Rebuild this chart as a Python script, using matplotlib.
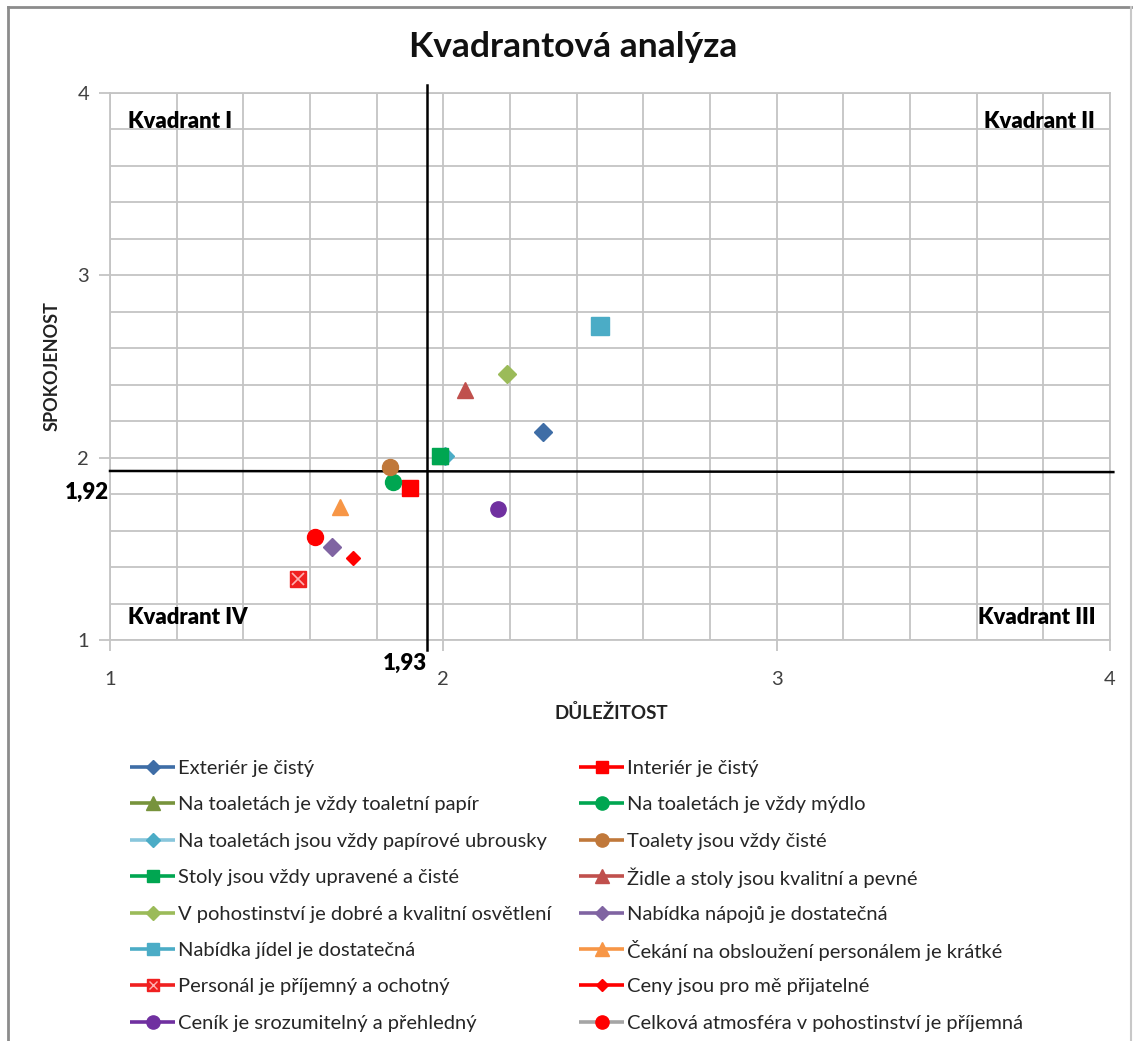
import matplotlib
matplotlib.use("Agg")
import matplotlib.pyplot as plt
from matplotlib.lines import Line2D

plt.rcParams['font.family'] = ['Lato', 'DejaVu Sans']

# ---- data ----
labels = [
    "Exteriér je čistý",
    "Interiér je čistý",
    "Na toaletách je vždy toaletní papír",
    "Na toaletách je vždy mýdlo",
    "Na toaletách jsou vždy papírové ubrousky",
    "Toalety jsou vždy čisté",
    "Stoly jsou vždy upravené a čisté",
    "Židle a stoly jsou kvalitní a pevné",
    "V pohostinství je dobré a kvalitní osvětlení",
    "Nabídka nápojů je dostatečná",
    "Nabídka jídel je dostatečná",
    "Čekání na obsloužení personálem je krátké",
    "Personál je příjemný a ochotný",
    "Ceny jsou pro mě přijatelné",
    "Ceník je srozumitelný a přehledný",
    "Celková atmosféra v pohostinství je příjemná",
]
importance = [2.30, 1.90, 1.99, 1.85, 2.005, 1.84, 1.99, 2.065, 2.19, 1.665, 2.47, 1.69, 1.565, 1.73, 2.165, 1.615]
satisfaction = [2.14, 1.835, 2.01, 1.865, 2.01, 1.95, 2.01, 2.37, 2.46, 1.51, 2.72, 1.73, 1.335, 1.45, 1.72, 1.565]

mean_importance_line = 1.95
mean_satisfaction_line = 1.927
mean_importance_label = "1,93"
mean_satisfaction_label = "1,92"

x_ticks = [1, 2, 3, 4]
y_ticks = [1, 2, 3, 4]
quadrant_labels = ["Kvadrant I", "Kvadrant II", "Kvadrant III", "Kvadrant IV"]

# ---- styles ----
marker_colors = ["#3E6DA6", "#FF0000", "#77933C", "#00A651", "#4BACC6", "#C0783A",
                 "#00A651", "#C0504D", "#9BBB59", "#8064A2", "#4BACC6", "#F79646",
                 "#F02020", "#FF0000", "#7030A0", "#FF0000"]
line_colors = ["#3E6DA6", "#FF0000", "#77933C", "#00A651", "#89C6DC", "#C0783A",
               "#00A651", "#C0504D", "#9BBB59", "#8064A2", "#4BACC6", "#F79646",
               "#F02020", "#FF0000", "#7030A0", "#A5A5A5"]
markers = ["D", "s", "^", "o", "D", "o", "s", "^", "D", "D", "s", "^", "s", "D", "o", "o"]
sizes = [9, 12, 12, 11.5, 9, 11.5, 12, 12, 9.5, 9, 13, 12, 12, 7.5, 11, 11.5]

fig = plt.figure(figsize=(11.37, 10.41), dpi=100)
W, H = 1137, 1041

def fx(px):
    return px / W

def fy(py):
    return 1 - py / H

# outer border
border_color = "#8C8C8C"
fig.add_artist(Line2D([fx(8), fx(8)], [fy(7), 0], color=border_color, lw=2))
fig.add_artist(Line2D([fx(8), fx(1131)], [fy(7), fy(7)], color=border_color, lw=2))
fig.add_artist(Line2D([fx(1131), fx(1131)], [fy(7), 0], color="#C8C8C8", lw=1.5))

ax = fig.add_axes([fx(110), fy(640), fx(1110) - fx(110), fy(93) - fy(640)])
ax.set_xlim(1, 4)
ax.set_ylim(1, 4)

grid_color = "#C4C4C4"
ax.set_xticks(x_ticks)
ax.set_yticks(y_ticks)
ax.set_xticks([1 + 0.2 * i for i in range(16)], minor=True)
ax.set_yticks([1 + 0.2 * i for i in range(16)], minor=True)
ax.grid(True, which='both', color=grid_color, lw=1.3)
ax.tick_params(which='minor', length=0)
ax.tick_params(which='major', length=8, color=grid_color, width=1.3,
               labelsize=14.5, labelcolor="#404040")
ax.tick_params(axis='x', pad=14)
ax.tick_params(axis='y', pad=7)
for s in ax.spines.values():
    s.set_color(grid_color)
    s.set_linewidth(1.3)
ax.set_axisbelow(True)

# quadrant lines
ax.plot([1, 4.01], [mean_satisfaction_line, mean_satisfaction_line - 0.006],
        color="black", lw=1.8, clip_on=False, zorder=3)
ax.plot([mean_importance_line, mean_importance_line], [0.945, 4.045],
        color="black", lw=1.8, clip_on=False, zorder=3)

for i, lab in enumerate(labels):
    ax.plot(importance[i], satisfaction[i], linestyle='none', marker=markers[i],
            ms=sizes[i], color=marker_colors[i], mec=marker_colors[i], zorder=4 + i)
    if i == 12:
        ax.plot(importance[i], satisfaction[i], linestyle='none', marker='x',
                ms=sizes[i] * 0.75, mew=1.2, color="#FFB0B0", zorder=4 + i)

# quadrant labels
qkw = dict(fontsize=15.8, fontweight='heavy', color="black", transform=ax.transAxes)
ax.text(18 / 1000, 1 - 28 / 547, quadrant_labels[0], ha='left', va='center', **qkw)
ax.text(1 - 15 / 1000, 1 - 28 / 547, quadrant_labels[1], ha='right', va='center', **qkw)
ax.text(1 - 15 / 1000, 22 / 547, quadrant_labels[2], ha='right', va='center', **qkw)
ax.text(18 / 1000, 22 / 547, quadrant_labels[3], ha='left', va='center', **qkw)

# mean labels
fig.text(fx(109), fy(492), mean_satisfaction_label, ha='right', va='center',
         fontsize=16, fontweight='heavy')
fig.text(fx(405), fy(663), mean_importance_label, ha='center', va='center',
         fontsize=16, fontweight='heavy')

# titles
fig.text(fx(573), fy(47), "Kvadrantová analýza", ha='center', va='center',
         fontsize=25.5, fontweight='bold', color="#111111")
fig.text(fx(611), fy(713), "DŮLEŽITOST", ha='center', va='center',
         fontsize=13.5, fontweight='bold', color="#222222")
fig.text(fx(52), fy(366), "SPOKOJENOST", ha='center', va='center', rotation=90,
         fontsize=13, fontweight='bold', color="#222222")

# legend, drawn row-wise in two columns
col_x = [130, 579]
row_y0 = 767
row_dy = 36.4
line_len = 45
for i, lab in enumerate(labels):
    row, col = divmod(i, 2)
    x0 = col_x[col]
    y = fy(row_y0 + row * row_dy)
    fig.add_artist(Line2D([fx(x0), fx(x0 + line_len)], [y, y], color=line_colors[i],
                          lw=2.6, solid_capstyle='butt'))
    lms = {"D": 7.5, "s": 9, "^": 9.5, "o": 9.5}[markers[i]]
    if i == 13:
        lms = 6
    fig.add_artist(Line2D([fx(x0 + line_len / 2)], [y], linestyle='none', marker=markers[i],
                          ms=lms, mfc=marker_colors[i], mec=marker_colors[i]))
    if i == 12:
        fig.add_artist(Line2D([fx(x0 + line_len / 2)], [y], linestyle='none', marker='x',
                              ms=lms * 0.7, mew=1.0, color="#FFB0B0"))
    fig.text(fx(x0 + line_len + 3), y, lab, ha='left', va='center_baseline',
             fontsize=14.5, color="#262626")

fig.savefig("out.png", dpi=100)
